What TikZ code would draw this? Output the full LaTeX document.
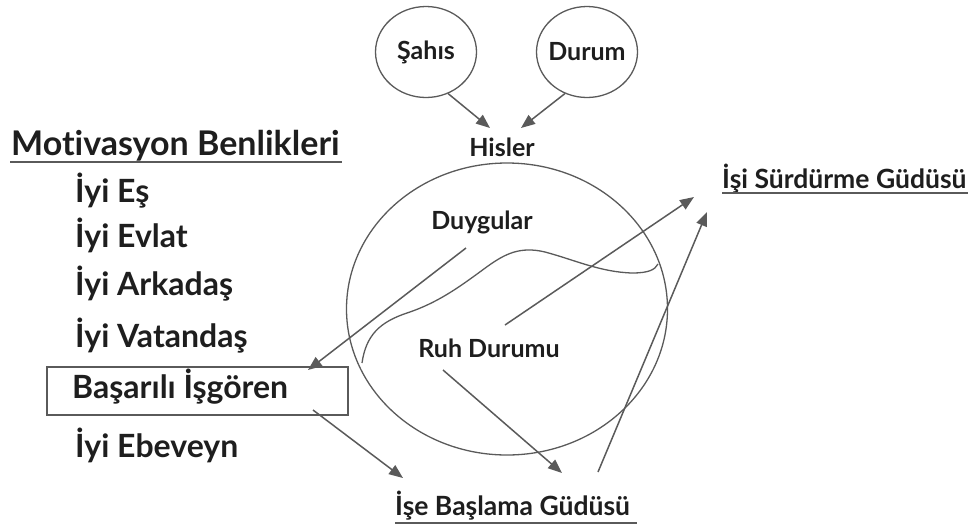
\documentclass[tikz,border=0pt]{standalone}
\usepackage{fontspec}
\setmainfont{Lato}[Ligatures={NoCommon,NoRare}]
\usetikzlibrary{arrows.meta,shapes.geometric}
\definecolor{ink}{HTML}{1E1E1E}
\definecolor{linegray}{HTML}{5A5A5A}
\tikzset{
  lbl/.style={text=ink, font=\fontsize{25}{29}\selectfont\bfseries, inner sep=0pt},
  drive/.style={text=ink, font=\fontsize{26.5}{30}\selectfont\bfseries, inner sep=0pt, anchor=base west},
  selfitem/.style={text=ink, font=\fontsize{32}{36}\selectfont\bfseries, inner sep=0pt, anchor=base west},
  ring/.style={draw=linegray, line width=1.3pt},
  flow/.style={draw=linegray, line width=1.5pt, -{Triangle[length=14pt,width=11pt]}},
  uline/.style={draw=linegray, line width=1.4pt}
}
\begin{document}
\begin{tikzpicture}[x=1pt,y=-1pt]
\useasboundingbox (0,0) rectangle (978,531);

% source circles and the feelings label
\node[ring, ellipse, minimum width=101pt, minimum height=91pt] (sahis) at (426,52) {};
\node[lbl] at (sahis) {Şahıs};
\node[ring, ellipse, minimum width=101pt, minimum height=91pt] (durum) at (587,52) {};
\node[lbl] at (durum) {Durum};
\node[lbl] (hisler) at (502,147) {Hisler};

% large circle with emotions and mood separated by a wavy line
\node[ring, ellipse, minimum width=321pt, minimum height=292pt] (big) at (507,309) {};
\node[lbl] (duygular) at (482,222) {Duygular};
\node[lbl] (ruh) at (489,348) {Ruh Durumu};
\draw[ring] (362,363) .. controls (366,335) and (380,322) .. (407,313)
  .. controls (440,302) and (462,285) .. (488,266)
  .. controls (505,254) and (520,246) .. (545,252)
  .. controls (575,260) and (600,272) .. (632,273)
  .. controls (648,273) and (655,270) .. (658,264);

% motivation selves
\node[selfitem, font=\fontsize{34}{37}\selectfont\bfseries] (title) at (11,155) {Motivasyon Benlikleri};
\draw[uline] (10,162) -- (342,162);
\node[selfitem] (es) at (75,202) {İyi Eş};
\node[selfitem] (evlat) at (75,247) {İyi Evlat};
\node[selfitem] (arkadas) at (75,295) {İyi Arkadaş};
\node[selfitem] (vatandas) at (75,347) {İyi Vatandaş};
\node[selfitem] (isgoren) at (72,398) {Başarılı İşgören};
\node[draw=linegray, line width=1.3pt, minimum width=301pt, minimum height=48pt, inner sep=0pt] (isgbox) at (197.5,391) {};
\node[selfitem] (ebeveyn) at (75,457) {İyi Ebeveyn};

% drives
\node[drive] (surdurme) at (722,188) {İşi Sürdürme Güdüsü};
\draw[uline] (surdurme.base west) ++(0,5) -- ++(246,0);
\node[drive] (baslama) at (395,515) {İşe Başlama Güdüsü};
\draw[uline] (baslama.base west) ++(0,8) -- ++(242,0);

% arrow end points
\coordinate (hA) at (490,128);
\coordinate (hB) at (521,128);
\coordinate (dStart) at (466,248);
\coordinate (boxIn) at (308,370);
\coordinate (boxOut) at (313,410);
\coordinate (startA) at (403,478);
\coordinate (ruhOut) at (443,370);
\coordinate (startB) at (562,473);
\coordinate (ruhUp) at (505,325);
\coordinate (contA) at (694,197);
\coordinate (lowUp) at (598,472);
\coordinate (contB) at (707,212);

\draw[flow] (sahis.-62) -- (hA);
\draw[flow] (durum.-118) -- (hB);
\draw[flow] (dStart) -- (boxIn);
\draw[flow] (boxOut) -- (startA);
\draw[flow] (ruhOut) -- (startB);
\draw[flow] (ruhUp) -- (contA);
\draw[flow] (lowUp) -- (contB);
\end{tikzpicture}
\end{document}
